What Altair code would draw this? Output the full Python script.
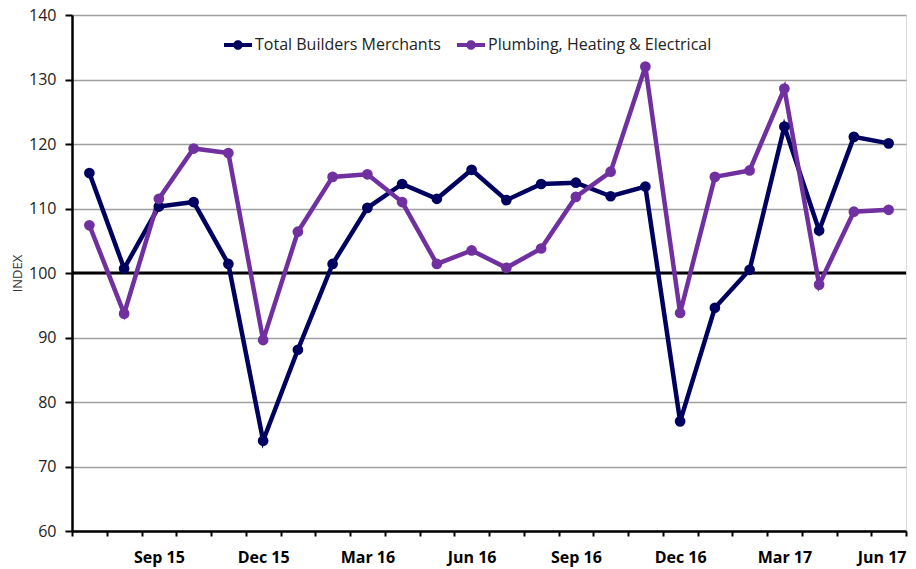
import altair as alt
import pandas as pd

months = ["Jul 15", "Aug 15", "Sep 15", "Oct 15", "Nov 15", "Dec 15",
          "Jan 16", "Feb 16", "Mar 16", "Apr 16", "May 16", "Jun 16",
          "Jul 16", "Aug 16", "Sep 16", "Oct 16", "Nov 16", "Dec 16",
          "Jan 17", "Feb 17", "Mar 17", "Apr 17", "May 17", "Jun 17"]
total_bm = [115.5, 100.7, 110.3, 111.0, 101.4, 74.0,
            88.1, 101.4, 110.1, 113.8, 111.5, 116.0,
            111.3, 113.8, 114.0, 111.9, 113.4, 77.0,
            94.6, 100.5, 122.7, 106.6, 121.1, 120.1]
phe = [107.4, 93.7, 111.5, 119.3, 118.6, 89.6,
       106.4, 114.9, 115.3, 111.0, 101.4, 103.5,
       100.8, 103.8, 111.8, 115.7, 132.0, 93.8,
       114.9, 115.9, 128.6, 98.2, 109.5, 109.8]
series_names = ["Total Builders Merchants", "Plumbing, Heating & Electrical"]
series_colors = ["#000060", "#7030A0"]
y_ticks = [60, 70, 80, 90, 100, 110, 120, 130, 140]
shown_months = ["Sep", "Dec", "Mar", "Jun"]

rows = []
for i, m in enumerate(months):
    rows.append({"month": m, "series": series_names[0], "value": total_bm[i]})
    rows.append({"month": m, "series": series_names[1], "value": phe[i]})
df = pd.DataFrame(rows)

label_expr = "indexof(" + str(shown_months) + ", slice(datum.label, 0, 3)) >= 0 ? datum.label : ''"

x_enc = alt.X("month:N", sort=months, scale=alt.Scale(paddingInner=0, paddingOuter=0),
              axis=alt.Axis(title=None, labelExpr=label_expr, labelOverlap=False,
                            labelAngle=0, tickBand="extent", grid=False,
                            domainColor="#000000", domainWidth=2.5,
                            tickColor="#000000", tickWidth=2, tickSize=5,
                            labelFont="Open Sans", labelFontSize=16, labelFontWeight="bold",
                            labelColor="#000000", labelPadding=21, labelBaseline="middle",
                            labelOffset={"condition": {"test": "datum.value == 'Jun 17'", "value": -7},
                                         "value": 0}))
y_enc = alt.Y("value:Q", scale=alt.Scale(domain=[60, 140], nice=False, zero=False),
              axis=alt.Axis(title="INDEX", values=y_ticks, grid=True, gridColor="#a0a0a0",
                            gridWidth=1.5, domainColor="#000000", domainWidth=2.5,
                            tickColor="#000000", tickWidth=2, tickSize=7,
                            labelFont="Open Sans", labelFontSize=16, labelColor="#222222",
                            labelPadding=9, titleFont="Open Sans", titleFontSize=13,
                            titleFontWeight="normal", titleColor="#333333", titlePadding=4))

legend_path = ("M -1 -0.15 L 1 -0.15 L 1 0.15 L -1 0.15 Z "
               "M 0.34 0 A 0.34 0.34 0 1 1 -0.34 0 A 0.34 0.34 0 1 1 0.34 0 Z")

color_enc = alt.Color("series:N", sort=series_names,
                      scale=alt.Scale(domain=series_names, range=series_colors),
                      legend=alt.Legend(title=None, orient="none", direction="horizontal",
                                        legendX=152, legendY=16, symbolType=legend_path,
                                        symbolSize=784, symbolStrokeWidth=0,
                                        labelFont="Open Sans", labelFontSize=16,
                                        labelColor="#222222", labelOffset=3, labelLimit=400,
                                        columnPadding=16, symbolOpacity=1))

base = alt.Chart(df)
lines = base.mark_line(strokeWidth=4.5).encode(x=x_enc, y=y_enc, color=color_enc)
points = base.mark_circle(size=115, opacity=1).encode(x=alt.X("month:N", sort=months),
                                                      y="value:Q",
                                                      color=alt.Color("series:N", legend=None,
                                                                      scale=alt.Scale(domain=series_names, range=series_colors)))
ref = alt.Chart(pd.DataFrame({"y": [100]})).mark_rule(color="#000000", strokeWidth=3).encode(y="y:Q")

chart = alt.layer(ref, lines, points).properties(
    width=834, height=516,
    autosize=alt.AutoSizeParams(type="none"),
    padding={"left": 64, "top": 7, "right": 2, "bottom": 38},
).configure_view(stroke=None).configure(background="#ffffff")

chart.save("out.html", embed_options={"renderer": "svg", "actions": False})
